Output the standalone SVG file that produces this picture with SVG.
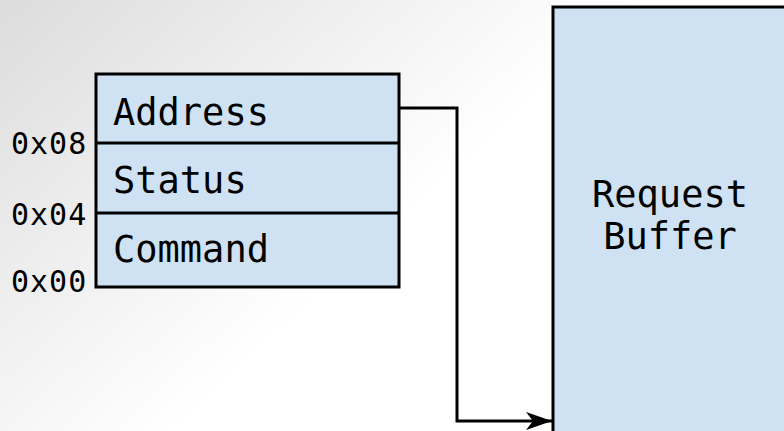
<svg xmlns="http://www.w3.org/2000/svg" width="784" height="431" viewBox="0 0 784 431">
<defs>
<linearGradient id="bg" x1="0" y1="0" x2="1" y2="0.6">
<stop offset="0" stop-color="#dcdcdc"/>
<stop offset="0.6" stop-color="#ffffff"/>
<stop offset="1" stop-color="#ffffff"/>
</linearGradient>
<marker id="arr" markerWidth="26" markerHeight="18" refX="26" refY="9" orient="auto" markerUnits="userSpaceOnUse">
<path d="M0,0 L26,9 L0,18 L7,9 Z" fill="#000"/>
</marker>
</defs>
<style>
.box{fill:#cfe2f3;stroke:#000;stroke-width:3}
.t{font-family:"DejaVu Sans Mono",monospace;font-size:37px;fill:#000}
.o{font-family:"DejaVu Sans Mono",monospace;font-size:30px;letter-spacing:1px;fill:#000}
.line{fill:none;stroke:#000;stroke-width:3}
</style>
<rect width="784" height="431" fill="url(#bg)"/>
<g id="registers">
<rect class="box" x="96" y="74" width="303" height="213"/>
<line class="line" x1="96" y1="143" x2="399" y2="143"/>
<line class="line" x1="96" y1="213" x2="399" y2="213"/>
<text class="t" x="113" y="125">Address</text>
<text class="t" x="113" y="193">Status</text>
<text class="t" x="113" y="262">Command</text>
</g>
<g id="offsets">
<text class="o" x="11" y="154">0x08</text>
<text class="o" x="11" y="225">0x04</text>
<text class="o" x="11" y="292">0x00</text>
</g>
<g id="request-buffer">
<rect class="box" x="553" y="7" width="240" height="440"/>
<text class="t" x="670" y="207" text-anchor="middle">Request</text>
<text class="t" x="670" y="249" text-anchor="middle">Buffer</text>
</g>
<g id="connectors">
<polyline class="line" points="399,108 457,108 457,421 552,421" marker-end="url(#arr)"/>
</g>
</svg>
